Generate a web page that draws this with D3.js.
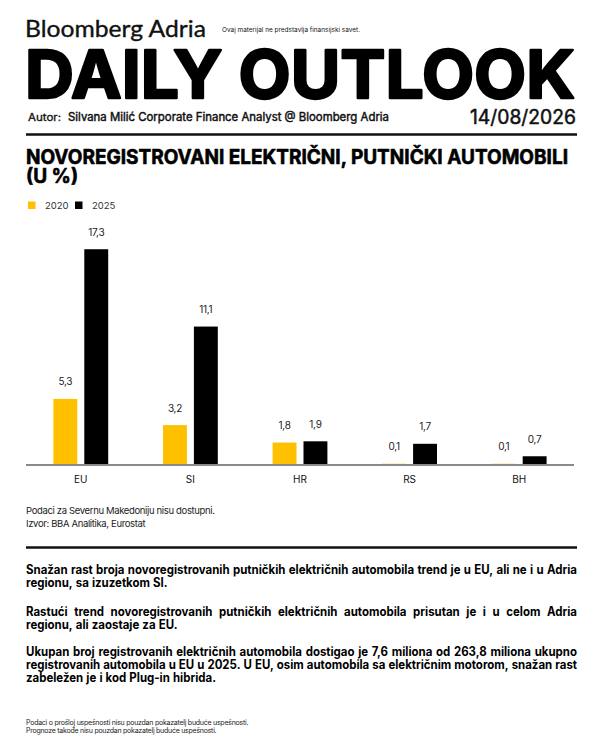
<!DOCTYPE html>
<html lang="sr">
<head>
  <meta charset="UTF-8">
  <title>Daily Outlook - električni automobili</title>
  <style>
    *{box-sizing:border-box;margin:0;padding:0}
    body{background:#fff;width:600px;height:750px;overflow:hidden}
    svg{display:block}
    text{font-family:Inter,'Noto Sans',sans-serif;fill:#111}
  </style>
  <script src="https://cdn.jsdelivr.net/npm/d3@7/dist/d3.min.js"></script>
</head>
<body>
  <div id="page"></div>
  <script>
    /* ---------- DATA ---------- */
    const countries = ['EU','SI','HR','RS','BH'];
    const years     = ['2020','2025'];
    const share2020 = [5.3, 3.2, 1.8, 0.1, 0.1];
    const share2025 = [17.3, 11.1, 1.9, 1.7, 0.7];
    const colors    = ['#ffc000','#000000'];

    const notes     = ['Podaci za Severnu Makedoniju nisu dostupni.','Izvor: BBA Analitika, Eurostat'];
    const paragraphs = [
      ['Snažan rast broja novoregistrovanih putničkih električnih automobila trend je u EU, ali ne i u Adria',
       'regionu, sa izuzetkom SI.'],
      ['Rastući trend novoregistrovanih putničkih električnih automobila prisutan je i u celom Adria',
       'regionu, ali zaostaje za EU.'],
      ['Ukupan broj registrovanih električnih automobila dostigao je 7,6 miliona od 263,8 miliona ukupno',
       'registrovanih automobila u EU u 2025. U EU, osim automobila sa električnim motorom, snažan rast',
       'zabeležen je i kod Plug-in hibrida.']
    ];
    const disclaimer = ['Podaci o prošloj uspešnosti nisu pouzdan pokazatelj buduće uspešnosti.',
                        'Prognoze takođe nisu pouzdan pokazatelj buduće uspešnosti.'];

    const rows = countries.map((c,i)=>({country:c,values:[share2020[i],share2025[i]]}));

    /* ---------- SVG ---------- */
    const W=600,H=750,L=26,R=577;
    const svg=d3.select('#page').append('svg').attr('width',W).attr('height',H);

    /* squeeze a text node to a target width */
    function fit(sel,w){sel.attr('textLength',w).attr('lengthAdjust','spacingAndGlyphs');return sel}
    function squeeze(sel,r){const n=sel.node().getComputedTextLength();return fit(sel,n*r)}
    function bolden(sel,w,c){return sel.attr('stroke',c||'#000').attr('stroke-width',w).attr('stroke-linejoin','round')}

    /* ---------- HEADER ---------- */
    bolden(fit(svg.append('text').attr('x',25).attr('y',36.5)
       .style('font-family','Lato,Inter,sans-serif').style('font-size','23px')
       .text('Bloomberg Adria'),181),0.35,'#111');
    fit(svg.append('text').attr('x',222).attr('y',32).style('font-size','6.5px')
       .text('Ovaj materijal ne predstavlja finansijski savet.'),138);
    bolden(fit(svg.append('text').attr('x',25).attr('y',97.5).style('font-weight',700).style('font-size','66px')
       .style('fill','#000').text('DAILY OUTLOOK'),550),2.4);
    bolden(fit(svg.append('text').attr('x',28).attr('y',120.5).style('font-size','10px')
       .text('Autor:'),33),0.3,'#111');
    bolden(fit(svg.append('text').attr('x',68).attr('y',120.5).style('font-size','11.5px')
       .text('Silvana Milić Corporate Finance Analyst @ Bloomberg Adria'),321),0.45,'#111');
    bolden(fit(svg.append('text').attr('x',576).attr('y',123.5).attr('text-anchor','end')
       .style('font-size','19.5px').text('14/08/2026'),106),0.5,'#111');
    svg.append('line').attr('x1',L).attr('x2',R).attr('y1',134.5).attr('y2',134.5)
       .attr('stroke','#111').attr('stroke-width',2.5);

    /* ---------- CHART TITLE + LEGEND ---------- */
    const title=svg.append('text').attr('x',L).attr('y',164).style('font-weight',700).style('font-size','19.5px')
       .style('fill','#000').text('NOVOREGISTROVANI ELEKTRIČNI, PUTNIČKI AUTOMOBILI');
    const tRatio=542/title.node().getComputedTextLength();
    bolden(fit(title,542),0.6);
    bolden(squeeze(svg.append('text').attr('x',L).attr('y',182.5).style('font-weight',700).style('font-size','19.5px')
       .style('fill','#000').text('(U %)'),tRatio),0.6);

    const leg=svg.append('g').selectAll('g').data(years).join('g')
       .attr('transform',(d,i)=>`translate(${[28,75][i]},201.5)`);
    leg.append('rect').attr('width',7.5).attr('height',7.5).attr('fill',(d,i)=>colors[i]);
    leg.append('text').attr('x',17).attr('y',7.5).style('font-size','9.5px').style('fill','#333').text(d=>d);

    /* ---------- BARS ---------- */
    const baseY=465;
    const x0=d3.scaleBand().domain(countries).range([L,574]).paddingInner(0.5).paddingOuter(0.25);
    const x1=d3.scaleBand().domain(years).range([0,x0.bandwidth()]).paddingInner(0.226);
    const y=d3.scaleLinear().domain([0,18]).range([baseY,240.5]);
    const fmt=v=>d3.format('.1f')(v).replace('.',',');

    const grp=svg.append('g').selectAll('g').data(rows).join('g')
       .attr('transform',d=>`translate(${x0(d.country)},0)`);
    const cells=d=>d.values.map((v,i)=>({year:years[i],value:v,i}));
    grp.selectAll('rect').data(cells).join('rect')
       .attr('x',d=>x1(d.year)).attr('width',x1.bandwidth())
       .attr('y',d=>y(d.value)).attr('height',d=>Math.max(1.5,baseY-y(d.value)))
       .attr('fill',d=>colors[d.i]);
    grp.selectAll('text').data(cells).join('text')
       .attr('x',d=>x1(d.year)+x1.bandwidth()/2).attr('y',d=>y(d.value)-13.5)
       .attr('text-anchor','middle').style('font-size','10px').style('fill','#222')
       .style('letter-spacing','-0.3px').text(d=>fmt(d.value));

    /* axis */
    const xAxis=d3.axisBottom(x0).tickSize(0).tickPadding(11);
    const ax=svg.append('g').attr('transform',`translate(0,${baseY})`).call(xAxis);
    ax.select('.domain').attr('d',`M${L},0H574`).attr('stroke','#8a8a8a').attr('stroke-width',2);
    ax.selectAll('.tick text').style('font-family','Inter,sans-serif').style('font-size','10px').style('fill','#111');

    /* ---------- NOTES ---------- */
    svg.append('g').selectAll('text').data(notes).join('text')
       .attr('x',L).attr('y',(d,i)=>514+i*12.7).style('font-size','9.5px').style('fill','#222')
       .style('letter-spacing','-0.35px').text(d=>d);
    svg.append('line').attr('x1',L).attr('x2',R).attr('y1',547.5).attr('y2',547.5)
       .attr('stroke','#111').attr('stroke-width',2.5);

    /* ---------- PARAGRAPHS (justified word by word) ---------- */
    const pStart=[574,615.7,655.7],lh=13.2,pw=R-L,fs='12.5px';
    const pg=svg.append('g');
    const probe=pg.append('text').style('font-weight',700).style('font-size',fs);
    const natMax=d3.max(paragraphs.flatMap(p=>p.slice(0,-1)),s=>{probe.text(s);return probe.node().getComputedTextLength();});
    probe.remove();
    const cond=pw/natMax*0.99;
    paragraphs.forEach((lines,pi)=>{
      lines.forEach((line,li)=>{
        const yy=pStart[pi]+li*lh,last=li===lines.length-1;
        const words=line.split(' ');
        const t=pg.append('g').attr('transform',`translate(${L},${yy}) scale(${cond},1)`);
        const nodes=words.map(w=>t.append('text').style('font-weight',700).style('font-size',fs).style('fill','#000').text(w));
        const widths=nodes.map(n=>n.node().getComputedTextLength());
        const gap=last?3.4:(pw/cond-d3.sum(widths))/(words.length-1);
        let cx=0;
        nodes.forEach((n,k)=>{n.attr('x',cx);cx+=widths[k]+gap;});
      });
    });

    /* ---------- DISCLAIMER ---------- */
    svg.append('g').selectAll('text').data(disclaimer).join('text')
       .attr('x',L).attr('y',(d,i)=>725+i*8).style('font-size','7px').style('fill','#222')
       .style('letter-spacing','-0.25px').text(d=>d);
  </script>
</body>
</html>
